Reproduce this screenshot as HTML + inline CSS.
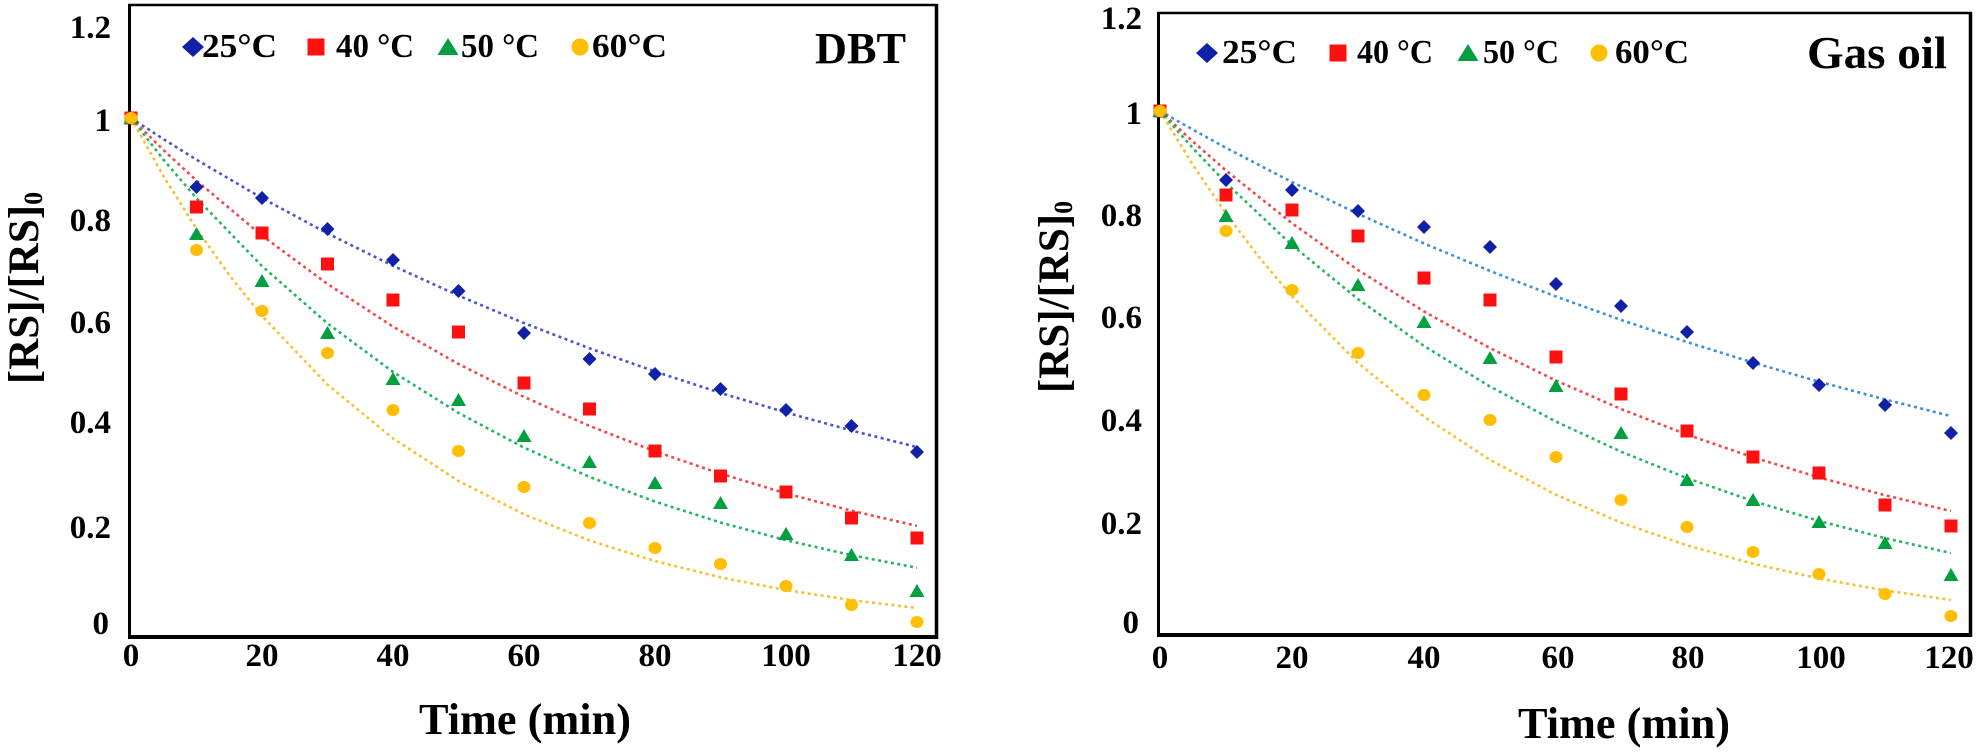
<!DOCTYPE html>
<html><head><meta charset="utf-8"><style>
html,body{margin:0;padding:0;background:#fff;}
svg{display:block;}
text{font-family:"Liberation Serif","Times New Roman",serif;font-weight:bold;fill:#000;}
</style></head><body>
<svg width="1984" height="752" viewBox="0 0 1984 752" xmlns="http://www.w3.org/2000/svg">
<defs>
<path id="d" d="M0,-7 L7,0 L0,7 L-7,0Z" fill="#1020a8"/>
<rect id="s" x="-6.5" y="-6.5" width="13" height="13" fill="#ff1010"/>
<path id="t" d="M0,-7 L7.5,6 L-7.5,6Z" fill="#00a040"/>
<ellipse id="c" rx="6.5" ry="6" fill="#ffbf00"/>
<path id="D" d="M0,-10 L11,0 L0,10 L-11,0Z" fill="#1020a8"/>
<rect id="S" x="-8.5" y="-8.5" width="17" height="17" fill="#ff1010"/>
<path id="T" d="M0,-9 L10.5,8 L-10.5,8Z" fill="#00a040"/>
<ellipse id="C" rx="8.5" ry="8.5" fill="#ffbf00"/>
</defs>
<rect width="1984" height="752" fill="#fff"/>

<!-- ===== LEFT PLOT ===== -->
<g fill="none" stroke="#000">
<line x1="128" y1="5" x2="938" y2="5" stroke-width="2.5"/>
<line x1="936.5" y1="4" x2="936.5" y2="639" stroke-width="3.5"/>
<line x1="129.5" y1="4" x2="129.5" y2="639" stroke-width="3"/>
<line x1="128" y1="637" x2="938" y2="637" stroke-width="4"/>
</g>
<!-- curves -->
<g fill="none" stroke-width="2.6" stroke-dasharray="3 3.5">
<path stroke="#4a55cc" d="M131,118 L163.75,139.3 L196.5,159.7 L262,198.1 L327.5,233.4 L393,265.8 L458.5,295.6 L524,323.1 L589.5,348.3 L655,371.5 L720.5,392.9 L786,412.5 L851.5,430.5 L917,447.1"/>
<path stroke="#f04848" d="M131,118 L163.75,150.3 L196.5,180.6 L262,235.6 L327.5,284 L393,326.6 L458.5,364 L524,396.9 L589.5,425.9 L655,451.3 L720.5,473.7 L786,493.4 L851.5,510.7 L917,525.9"/>
<path stroke="#25b560" d="M131,118 L163.75,160 L196.5,198.2 L262,266.1 L327.5,323.4 L393,371.9 L458.5,412.9 L524,447.6 L589.5,476.9 L655,501.6 L720.5,522.5 L786,540.2 L851.5,555.2 L917,567.8"/>
<path stroke="#f8c030" d="M131,118 L163.75,176.7 L196.5,228.9 L229.25,274.9 L262,316 L327.5,384.6 L393,438.5 L458.5,480.9 L524,514.3 L589.5,540.5 L655,561.1 L720.5,577.3 L786,590.1 L851.5,600.1 L917,608"/>
</g>
<!-- markers -->
<g>
<use href="#d" x="131" y="118"/><use href="#d" x="196.5" y="187"/><use href="#d" x="262" y="198"/><use href="#d" x="327.5" y="229"/><use href="#d" x="393" y="260"/><use href="#d" x="458.5" y="291"/><use href="#d" x="524" y="333"/><use href="#d" x="589.5" y="359"/><use href="#d" x="655" y="374"/><use href="#d" x="720.5" y="389"/><use href="#d" x="786" y="410"/><use href="#d" x="851.5" y="426"/><use href="#d" x="917" y="452"/>
<use href="#s" x="131" y="118"/><use href="#s" x="196.5" y="207"/><use href="#s" x="262" y="233"/><use href="#s" x="327.5" y="264"/><use href="#s" x="393" y="300"/><use href="#s" x="458.5" y="332"/><use href="#s" x="524" y="383"/><use href="#s" x="589.5" y="409"/><use href="#s" x="655" y="451"/><use href="#s" x="720.5" y="476"/><use href="#s" x="786" y="492"/><use href="#s" x="851.5" y="518"/><use href="#s" x="917" y="538"/>
<use href="#t" x="131" y="118"/><use href="#t" x="196.5" y="234"/><use href="#t" x="262" y="281"/><use href="#t" x="327.5" y="333"/><use href="#t" x="393" y="379"/><use href="#t" x="458.5" y="400"/><use href="#t" x="524" y="436"/><use href="#t" x="589.5" y="462"/><use href="#t" x="655" y="483"/><use href="#t" x="720.5" y="503"/><use href="#t" x="786" y="534"/><use href="#t" x="851.5" y="555"/><use href="#t" x="917" y="591"/>
<use href="#c" x="131" y="118"/><use href="#c" x="196.5" y="250"/><use href="#c" x="262" y="311"/><use href="#c" x="327.5" y="353"/><use href="#c" x="393" y="410"/><use href="#c" x="458.5" y="451"/><use href="#c" x="524" y="487"/><use href="#c" x="589.5" y="523"/><use href="#c" x="655" y="548"/><use href="#c" x="720.5" y="564"/><use href="#c" x="786" y="586"/><use href="#c" x="851.5" y="605"/><use href="#c" x="917" y="622"/>
</g>
<!-- y tick labels -->
<g font-size="33" text-anchor="end">
<text x="111" y="38">1.2</text>
<text x="111" y="131">1</text>
<text x="111" y="231">0.8</text>
<text x="111" y="333">0.6</text>
<text x="111" y="433">0.4</text>
<text x="111" y="538">0.2</text>
<text x="109" y="634">0</text>
</g>
<!-- x tick labels -->
<g font-size="33" text-anchor="middle">
<text x="131" y="666">0</text>
<text x="262" y="666">20</text>
<text x="393" y="666">40</text>
<text x="524" y="666">60</text>
<text x="655" y="666">80</text>
<text x="786" y="666">100</text>
<text x="917" y="666">120</text>
</g>
<text x="525" y="734" font-size="44" text-anchor="middle" textLength="212" lengthAdjust="spacingAndGlyphs">Time (min)</text>
<text transform="translate(38,288) rotate(-90)" font-size="43" text-anchor="middle">[RS]/[RS]<tspan font-size="26" dy="4">0</tspan></text>
<text x="815" y="63" font-size="44" textLength="91" lengthAdjust="spacingAndGlyphs">DBT</text>
<!-- legend -->
<use href="#D" x="193" y="47"/>
<text x="202" y="57" font-size="34" textLength="75" lengthAdjust="spacingAndGlyphs">25°C</text>
<use href="#S" x="316" y="47"/>
<text x="336" y="57" font-size="34" textLength="78" lengthAdjust="spacingAndGlyphs">40 °C</text>
<use href="#T" x="448" y="47"/>
<text x="461" y="57" font-size="34" textLength="78" lengthAdjust="spacingAndGlyphs">50 °C</text>
<use href="#C" x="580" y="47"/>
<text x="592" y="57" font-size="34" textLength="75" lengthAdjust="spacingAndGlyphs">60°C</text>

<!-- ===== RIGHT PLOT ===== -->
<g fill="none" stroke="#000">
<line x1="1157" y1="13" x2="1972" y2="13" stroke-width="2.5"/>
<line x1="1970.5" y1="12" x2="1970.5" y2="637" stroke-width="3.5"/>
<line x1="1158.5" y1="12" x2="1158.5" y2="637" stroke-width="3"/>
<line x1="1157" y1="635" x2="1972" y2="635" stroke-width="4"/>
</g>
<g fill="none" stroke-width="2.6" stroke-dasharray="3 3.5">
<path stroke="#3c8fd8" d="M1160,111 L1192.95,129.7 L1225.9,147.8 L1291.8,182 L1357.7,213.7 L1423.6,243.3 L1489.5,270.7 L1555.4,296.3 L1621.3,320 L1687.2,342.1 L1753.1,362.6 L1819,381.7 L1884.9,399.4 L1950.8,416"/>
<path stroke="#f04848" d="M1160,111 L1192.95,141.6 L1225.9,170.4 L1291.8,223.1 L1357.7,269.8 L1423.6,311.2 L1489.5,347.8 L1555.4,380.3 L1621.3,409.1 L1687.2,434.7 L1753.1,457.3 L1819,477.4 L1884.9,495.2 L1950.8,511"/>
<path stroke="#25b560" d="M1160,111 L1192.95,148.2 L1225.9,182.8 L1291.8,245 L1357.7,298.9 L1423.6,345.7 L1489.5,386.2 L1555.4,421.3 L1621.3,451.8 L1687.2,478.2 L1753.1,501.1 L1819,520.9 L1884.9,538.1 L1950.8,553"/>
<path stroke="#f8c030" d="M1160,111 L1192.95,165 L1225.9,213.4 L1258.85,256.9 L1291.8,296 L1357.7,362.6 L1423.6,416.3 L1489.5,459.6 L1555.4,494.5 L1621.3,522.7 L1687.2,545.4 L1753.1,563.7 L1819,578.5 L1884.9,590.4 L1950.8,600"/>
</g>
<g>
<use href="#d" x="1160" y="111"/><use href="#d" x="1226" y="180"/><use href="#d" x="1292" y="190"/><use href="#d" x="1358" y="211"/><use href="#d" x="1424" y="227"/><use href="#d" x="1490" y="247"/><use href="#d" x="1556" y="284"/><use href="#d" x="1621" y="306"/><use href="#d" x="1687" y="332"/><use href="#d" x="1753" y="363"/><use href="#d" x="1819" y="385"/><use href="#d" x="1885" y="405"/><use href="#d" x="1951" y="433"/>
<use href="#s" x="1160" y="111"/><use href="#s" x="1226" y="195"/><use href="#s" x="1292" y="210"/><use href="#s" x="1358" y="236"/><use href="#s" x="1424" y="278"/><use href="#s" x="1490" y="300"/><use href="#s" x="1556" y="357"/><use href="#s" x="1621" y="394"/><use href="#s" x="1687" y="431"/><use href="#s" x="1753" y="457"/><use href="#s" x="1819" y="473"/><use href="#s" x="1885" y="505"/><use href="#s" x="1951" y="526"/>
<use href="#t" x="1160" y="111"/><use href="#t" x="1226" y="216"/><use href="#t" x="1292" y="243"/><use href="#t" x="1358" y="285"/><use href="#t" x="1424" y="322"/><use href="#t" x="1490" y="358"/><use href="#t" x="1556" y="386"/><use href="#t" x="1621" y="433"/><use href="#t" x="1687" y="480"/><use href="#t" x="1753" y="500"/><use href="#t" x="1819" y="522"/><use href="#t" x="1885" y="543"/><use href="#t" x="1951" y="575"/>
<use href="#c" x="1160" y="111"/><use href="#c" x="1226" y="231"/><use href="#c" x="1292" y="290"/><use href="#c" x="1358" y="353"/><use href="#c" x="1424" y="395"/><use href="#c" x="1490" y="420"/><use href="#c" x="1556" y="457"/><use href="#c" x="1621" y="500"/><use href="#c" x="1687" y="527"/><use href="#c" x="1753" y="552"/><use href="#c" x="1819" y="574"/><use href="#c" x="1885" y="594"/><use href="#c" x="1951" y="616"/>
</g>
<g font-size="33" text-anchor="end">
<text x="1142" y="29">1.2</text>
<text x="1142" y="124">1</text>
<text x="1142" y="226">0.8</text>
<text x="1142" y="328">0.6</text>
<text x="1142" y="431">0.4</text>
<text x="1142" y="534">0.2</text>
<text x="1139" y="633">0</text>
</g>
<g font-size="33" text-anchor="middle">
<text x="1160" y="668">0</text>
<text x="1292" y="668">20</text>
<text x="1424" y="668">40</text>
<text x="1558" y="668">60</text>
<text x="1688" y="668">80</text>
<text x="1821" y="668">100</text>
<text x="1949" y="668">120</text>
</g>
<text x="1624" y="738" font-size="44" text-anchor="middle" textLength="212" lengthAdjust="spacingAndGlyphs">Time (min)</text>
<text transform="translate(1068,297) rotate(-90)" font-size="43" text-anchor="middle">[RS]/[RS]<tspan font-size="26" dy="4">0</tspan></text>
<text x="1807" y="68" font-size="46" textLength="140" lengthAdjust="spacingAndGlyphs">Gas oil</text>
<use href="#D" x="1207" y="53"/>
<text x="1222" y="63" font-size="34" textLength="75" lengthAdjust="spacingAndGlyphs">25°C</text>
<use href="#S" x="1338" y="53"/>
<text x="1357" y="63" font-size="34" textLength="76" lengthAdjust="spacingAndGlyphs">40 °C</text>
<use href="#T" x="1468" y="53"/>
<text x="1483" y="63" font-size="34" textLength="76" lengthAdjust="spacingAndGlyphs">50 °C</text>
<use href="#C" x="1599" y="53"/>
<text x="1615" y="63" font-size="34" textLength="74" lengthAdjust="spacingAndGlyphs">60°C</text>
</svg>
</body></html>
